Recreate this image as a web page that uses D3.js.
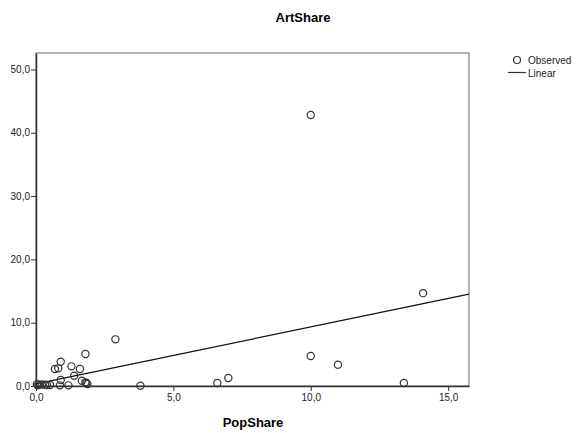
<!DOCTYPE html>
<html>
<head>
<meta charset="utf-8">
<script src="https://cdn.jsdelivr.net/npm/d3@7"></script>
<style>
  body { margin: 0; background: #fff; }
  svg { font-family: "Liberation Sans", Arial, sans-serif; }
</style>
</head>
<body>
<div class="chart"></div>
<script>
// observed points (PopShare, ArtShare)
const popShare = [
  10.0, 14.09, 10.0, 10.99, 6.6, 7.0, 13.39, 3.8,
  2.89, 1.8, 0.9, 1.29, 0.69, 0.81, 1.6, 1.39, 0.9, 1.67, 1.8, 1.83, 1.87,
  0.03, 0.1, 0.21, 0.33, 0.51, 0.87, 1.18, 0.06, 0.4
];
const artShare = [
  42.8, 14.67, 4.73, 3.37, 0.47, 1.26, 0.47, 0.05,
  7.37, 5.05, 3.83, 3.1, 2.68, 2.79, 2.68, 1.63, 0.95, 0.84, 0.58, 0.47, 0.3,
  0.3, 0.2, 0.25, 0.2, 0.15, 0.1, 0.1, 0.1, 0.15
];
// fitted linear line: ArtShare = intercept + slope * PopShare
const fitIntercept = 0.33;
const fitSlope = 0.9;

const xTicks = [0, 5, 10, 15];
const yTicks = [0, 10, 20, 30, 40, 50];
const xDomain = [0, 15.76];
const yDomain = [0, 52.6];

const legendItems = ["Observed", "Linear"];

const fmt = (d) => d3.format(".1f")(d).replace(".", ",");

const svg = d3.select(".chart").append("svg")
  .attr("width", 577)
  .attr("height", 433);

const plotLeft = 36, plotRight = 469, plotTop = 53, plotBottom = 386;

const x = d3.scaleLinear().domain(xDomain).range([plotLeft, plotRight]);
const y = d3.scaleLinear().domain(yDomain).range([plotBottom, plotTop]);

// title
svg.append("text")
  .attr("x", 303)
  .attr("y", 22)
  .attr("text-anchor", "middle")
  .style("font-size", "13px")
  .style("font-weight", "bold")
  .text("ArtShare");

// frame
svg.append("rect")
  .attr("x", plotLeft)
  .attr("y", plotTop)
  .attr("width", plotRight - plotLeft)
  .attr("height", plotBottom - plotTop)
  .attr("fill", "#fff")
  .attr("stroke", "#666")
  .attr("stroke-width", 1);

// axes
const xAxis = svg.append("g")
  .attr("transform", `translate(0,${plotBottom})`)
  .call(d3.axisBottom(x).tickValues(xTicks).tickFormat(fmt)
    .tickSize(5).tickSizeOuter(0).tickPadding(3));

const yAxis = svg.append("g")
  .attr("transform", `translate(${plotLeft},0)`)
  .call(d3.axisLeft(y).tickValues(yTicks).tickFormat(fmt)
    .tickSize(5).tickSizeOuter(0).tickPadding(1));

[xAxis, yAxis].forEach((g) => {
  g.select(".domain").attr("stroke", "#333").attr("stroke-width", 1.5);
  g.selectAll(".tick line").attr("stroke", "#333");
  g.selectAll(".tick text")
    .attr("fill", "#222")
    .style("font-size", "10px")
    .style("font-family", "\"Liberation Sans\", Arial, sans-serif");
});

// fit line
svg.append("line")
  .attr("x1", x(xDomain[0]))
  .attr("y1", y(fitIntercept + fitSlope * xDomain[0]))
  .attr("x2", x(xDomain[1]))
  .attr("y2", y(fitIntercept + fitSlope * xDomain[1]))
  .attr("stroke", "#111")
  .attr("stroke-width", 1.2);

// observed points
svg.append("g")
  .selectAll("circle")
  .data(popShare.map((p, i) => [p, artShare[i]]))
  .enter()
  .append("circle")
  .attr("cx", (d) => x(d[0]))
  .attr("cy", (d) => y(d[1]))
  .attr("r", 3.6)
  .attr("fill", "none")
  .attr("stroke", "#333")
  .attr("stroke-width", 1.2);

// x label
svg.append("text")
  .attr("x", 253)
  .attr("y", 427)
  .attr("text-anchor", "middle")
  .style("font-size", "13px")
  .style("font-weight", "bold")
  .text("PopShare");

// legend
const legend = svg.append("g");
legend.append("circle")
  .attr("cx", 517)
  .attr("cy", 60)
  .attr("r", 3.5)
  .attr("fill", "none")
  .attr("stroke", "#333")
  .attr("stroke-width", 1.2);
legend.append("line")
  .attr("x1", 508)
  .attr("x2", 526)
  .attr("y1", 72.5)
  .attr("y2", 72.5)
  .attr("stroke", "#333")
  .attr("stroke-width", 1.2);
legend.selectAll("text")
  .data(legendItems)
  .enter()
  .append("text")
  .attr("x", 528)
  .attr("y", (d, i) => 64 + i * 12.5)
  .style("font-size", "10px")
  .attr("fill", "#222")
  .text((d) => d);
</script>
</body>
</html>
